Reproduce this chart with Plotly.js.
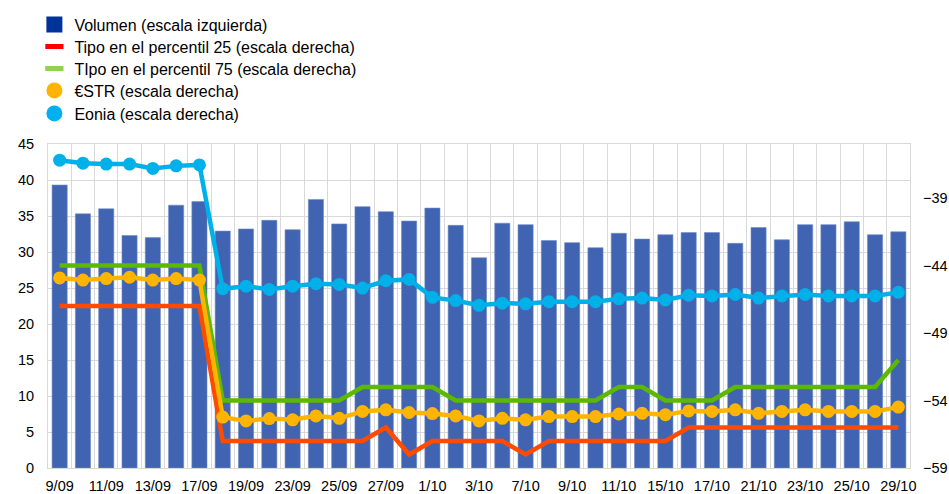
<!DOCTYPE html>
<html>
<head>
<meta charset="utf-8">
<script src="https://cdn.plot.ly/plotly-3.0.1.min.js"></script>
<style>html,body{margin:0;padding:0;background:#fff;}#chart{width:949px;height:494px;}</style>
</head>
<body>
<div id="chart"></div>
<script>
// Business days, 9 Sep – 29 Oct
const dates = ['9/09','10/09','11/09','12/09','13/09','16/09','17/09','18/09','19/09','20/09',
  '23/09','24/09','25/09','26/09','27/09','30/09','1/10','2/10','3/10','4/10',
  '7/10','8/10','9/10','10/10','11/10','14/10','15/10','16/10','17/10','18/10',
  '21/10','22/10','23/10','24/10','25/10','28/10','29/10'];
const tickLabels = ['9/09','11/09','13/09','17/09','19/09','23/09','25/09','27/09','1/10','3/10',
  '7/10','9/10','11/10','15/10','17/10','21/10','23/10','25/10','29/10'];

// Volume (left axis)
const volumen = [39.3,35.3,36.0,32.3,32.0,36.5,37.0,32.9,33.2,34.4,33.1,37.3,33.9,36.3,35.6,34.3,36.1,
  33.7,29.2,34.0,33.8,31.6,31.3,30.6,32.6,31.8,32.4,32.7,32.7,31.2,33.4,31.7,33.8,33.8,34.2,32.4,32.8];

// Rates (right axis)
const p25 = [-47,-47,-47,-47,-47,-47,-47,-57,-57,-57,-57,-57,-57,-57,-56,-58,-57,-57,-57,-57,
  -58,-57,-57,-57,-57,-57,-57,-56,-56,-56,-56,-56,-56,-56,-56,-56,-56];
const p75 = [-44,-44,-44,-44,-44,-44,-44,-54,-54,-54,-54,-54,-54,-53,-53,-53,-53,-54,-54,-54,
  -54,-54,-54,-54,-53,-53,-54,-54,-54,-53,-53,-53,-53,-53,-53,-53,-51];
const estr = [-44.92,-45.08,-44.97,-44.87,-45.08,-44.97,-45.08,-55.23,-55.51,-55.34,-55.43,-55.14,
  -55.32,-54.81,-54.69,-54.89,-54.97,-55.14,-55.51,-55.32,-55.43,-55.19,-55.19,-55.19,-55.0,-54.95,
  -55.05,-54.77,-54.81,-54.69,-54.95,-54.81,-54.69,-54.81,-54.81,-54.81,-54.49];
const eonia = [-36.2,-36.42,-36.49,-36.49,-36.81,-36.62,-36.55,-45.72,-45.53,-45.77,-45.53,-45.35,
  -45.4,-45.67,-45.13,-45.03,-46.36,-46.6,-46.95,-46.79,-46.84,-46.68,-46.68,-46.68,-46.47,-46.41,
  -46.55,-46.2,-46.25,-46.15,-46.41,-46.25,-46.15,-46.25,-46.25,-46.25,-45.99];

const names = ['Volumen (escala izquierda)','Tipo en el percentil 25 (escala derecha)',
  'TIpo en el percentil 75 (escala derecha)','€STR (escala derecha)','Eonia (escala derecha)'];

const traces = [
  {type:'bar', x:dates, y:volumen, width:0.65, marker:{color:'#4064b1', line:{color:'#6f8cc8', width:0.6}},
   showlegend:false, hoverinfo:'skip'},
  {type:'scatter', mode:'lines', x:dates, y:p75, yaxis:'y2', line:{color:'#5cb800', width:4.5},
   showlegend:false},
  {type:'scatter', mode:'lines', x:dates, y:p25, yaxis:'y2', line:{color:'#ff4b00', width:4.5},
   showlegend:false},
  {type:'scatter', mode:'lines+markers', x:dates, y:estr, yaxis:'y2', line:{color:'#ffb400', width:4.5},
   marker:{size:13, color:'#ffb400'}, showlegend:false},
  {type:'scatter', mode:'lines+markers', x:dates, y:eonia, yaxis:'y2', line:{color:'#00b0e8', width:4.5},
   marker:{size:13, color:'#00b0e8'}, showlegend:false},
  // legend entries (one legend each, to match the row spacing)
  {type:'scatter', mode:'markers', x:[null], y:[null], name:names[0], legend:'legend',
   marker:{symbol:'square', size:16, color:'#003399'}},
  {type:'scatter', mode:'markers', x:[null], y:[null], name:names[1], legend:'legend2',
   marker:{symbol:'line-ew', size:13, color:'#ff0000', line:{color:'#ff0000', width:5}}},
  {type:'scatter', mode:'markers', x:[null], y:[null], name:names[2], legend:'legend3',
   marker:{symbol:'line-ew', size:13, color:'#92d050', line:{color:'#92d050', width:5}}},
  {type:'scatter', mode:'markers', x:[null], y:[null], name:names[3], legend:'legend4',
   marker:{symbol:'circle', size:16, color:'#ffb400'}},
  {type:'scatter', mode:'markers', x:[null], y:[null], name:names[4], legend:'legend5',
   marker:{symbol:'circle', size:16, color:'#00b0f0'}}
];

const grid = '#d9d9d9';
const leg = (y) => ({x:-0.0158, xanchor:'left', y:y, yanchor:'top', bgcolor:'rgba(0,0,0,0)',
  font:{size:16, color:'#000'}, itemclick:false});
const layout = {
  width:949, height:494,
  margin:{l:48, r:39, t:144, b:26, pad:0, autoexpand:false},
  paper_bgcolor:'#fff', plot_bgcolor:'#fff',
  font:{family:'"Liberation Sans", Arial, sans-serif', size:14.5, color:'#000'},
  bargap:0.35,
  xaxis:{type:'category', range:[-0.5,36.5], tickson:'boundaries', tickvals:dates,
    ticktext:dates.map(d => tickLabels.includes(d) ? d : ''),
    showgrid:true, gridcolor:grid, gridwidth:1, ticks:'', showline:true, linecolor:grid, mirror:true,
    ticklabelstandoff:5, tickangle:0, fixedrange:true},
  yaxis:{range:[0,45], dtick:5, tick0:0, showgrid:true, gridcolor:grid, gridwidth:1, zeroline:false,
    showline:true, linecolor:grid, mirror:true, ticks:'', ticklabelstandoff:10, fixedrange:true},
  yaxis2:{overlaying:'y', side:'right', range:[-59,-35], tick0:-59, dtick:5, showgrid:false,
    zeroline:false, showline:false, ticks:'', ticklabelstandoff:12, fixedrange:true},
  legend:leg(1.4213), legend2:leg(1.3534), legend3:leg(1.2855), legend4:leg(1.2175), legend5:leg(1.1466),
  showlegend:true
};

Plotly.newPlot('chart', traces, layout, {staticPlot:true, displayModeBar:false});
</script>
</body>
</html>
